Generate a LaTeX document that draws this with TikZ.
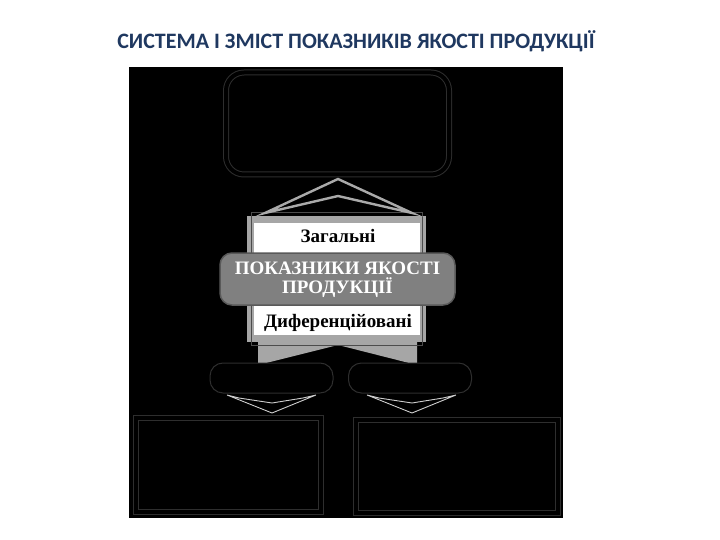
\documentclass[tikz,border=0pt]{standalone}
\usepackage{fontspec}
\setmainfont{Liberation Serif}
\newfontfamily\titlefont{Carlito}
\definecolor{titleblue}{RGB}{31,56,96}
\definecolor{framegray}{RGB}{166,166,166}
\definecolor{pillgray}{RGB}{128,128,128}
\definecolor{darkline}{RGB}{46,46,46}
\definecolor{chevgray}{RGB}{170,170,170}
\definecolor{chevlight}{RGB}{205,205,205}
\begin{document}
\begin{tikzpicture}[x=1pt,y=-1pt,
  dbox/.style={draw=darkline, line width=1pt, double=black, double distance=4pt, inner sep=0pt},
  pill/.style={draw=darkline, line width=1pt, fill=black, rounded corners=13pt, minimum width=123pt, minimum height=30pt, inner sep=0pt},
  upchev/.style={draw=chevgray, line width=2.4pt, fill=black, line join=miter},
  downchev/.style={draw=chevlight, line width=0.9pt, fill=black},
  lbl/.style={font=\fontsize{19}{19}\selectfont\bfseries, text=black, inner sep=0pt}]
\useasboundingbox (0,0) rectangle (720,540);
\fill[white] (0,0) rectangle (720,540);
% title
\node[font=\titlefont\fontsize{22}{22}\selectfont\bfseries, text=titleblue, anchor=base, inner sep=0pt] (title) at (356,49) {СИСТЕМА І ЗМІСТ ПОКАЗНИКІВ ЯКОСТІ ПРОДУКЦІЇ};
% black field
\node[fill=black, minimum width=434pt, minimum height=451pt, inner sep=0pt, anchor=north west] (field) at (129,67) {};
% top box
\node[dbox, rounded corners=18pt, minimum width=223pt, minimum height=102pt] (top) at (337.5,123.5) {};
% gray banner below frame
\fill[framegray] (258,340) -- (417,340) -- (417,365) -- (338,345) -- (258,365) -- cycle;
% frame
\node[draw=framegray, line width=6.5pt, fill=white, minimum width=172.5pt, minimum height=119pt, inner sep=0pt] (frame) at (336.75,279) {};
\draw[black!70, line width=0.7pt] ([shift={(3.6,-3.6)}]frame.north west) rectangle ([shift={(-3.6,3.6)}]frame.south east);
\node[lbl, anchor=base] (gen) at (338,243) {Загальні};
\node[lbl, anchor=base] (dif) at (338,327) {Диференційовані};
% central pill
\node[draw=black!65, line width=1.5pt, fill=pillgray, rounded corners=12pt, minimum width=235pt, minimum height=52pt, inner sep=0pt] (main) at (337.5,279) {};
\node[text=white, font=\fontsize{19}{19}\selectfont\bfseries, anchor=base, inner sep=0pt] (mainA) at (337.5,274) {ПОКАЗНИКИ ЯКОСТІ};
\node[text=white, font=\fontsize{19}{19}\selectfont\bfseries, anchor=base, inner sep=0pt] (mainB) at (337.5,293) {ПРОДУКЦІЇ};
% up chevron from frame to top box
\coordinate (ua) at (338,179);
\coordinate (ui) at (338,196);
\filldraw[upchev] (265,213) -- (ua) -- (412,213) -- (ui) -- cycle;
% lower pills
\node[pill] (lp) at (271.5,378) {};
\node[pill] (rp) at (410,378) {};
% down chevrons
\filldraw[downchev] (227,395) -- (272,413) -- (316,395) -- (303,398) -- (272,403) -- (239,398) -- cycle;
\filldraw[downchev] (367,395) -- (412,413) -- (456,395) -- (443,398) -- (412,403) -- (379,398) -- cycle;
% lower boxes
\node[dbox, minimum width=185.5pt, minimum height=94pt] (lb) at (228.25,465) {};
\node[dbox, minimum width=202.5pt, minimum height=93pt] (rb) at (456.75,466) {};
\end{tikzpicture}
\end{document}
